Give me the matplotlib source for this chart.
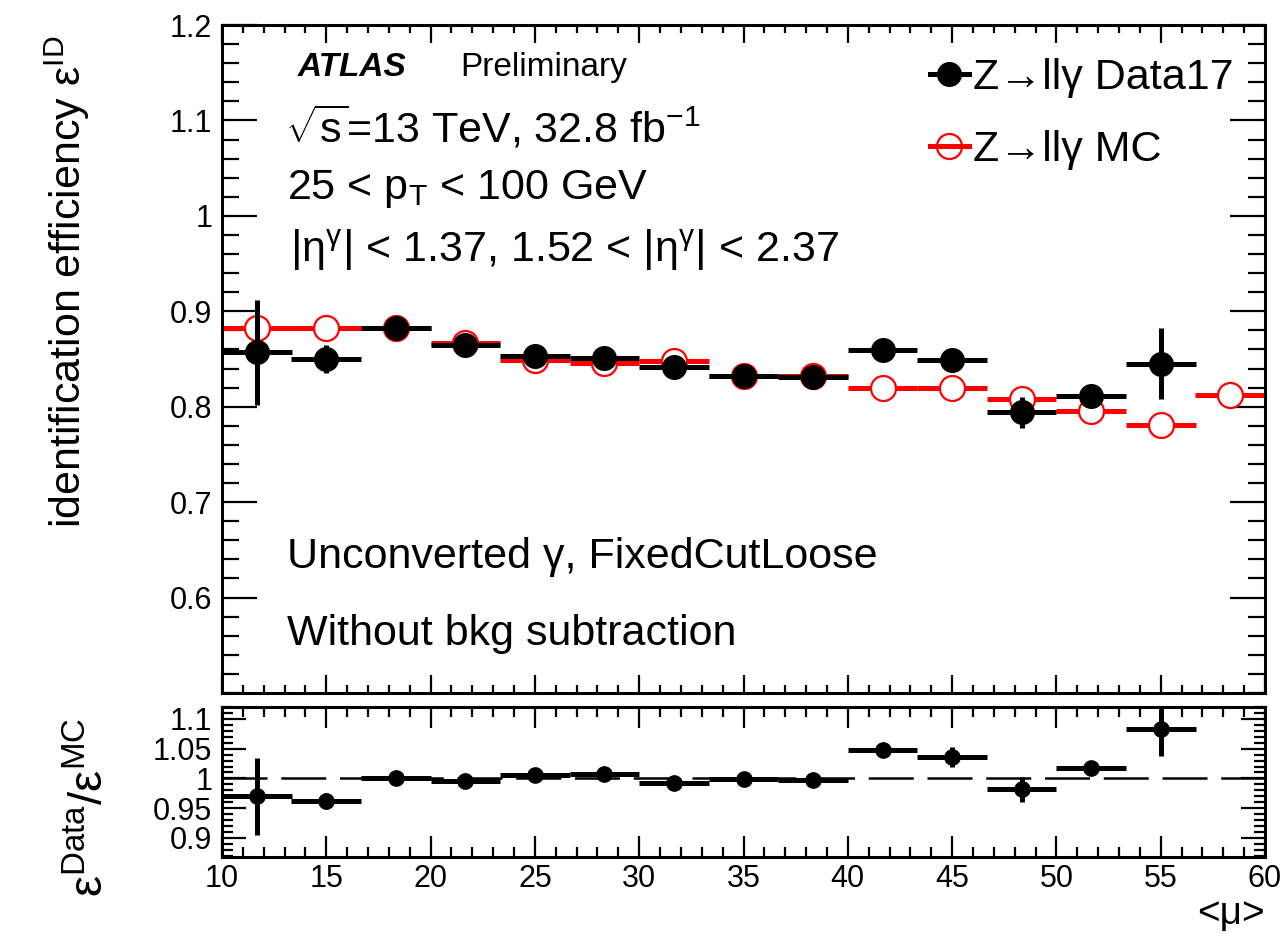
import numpy as np
import matplotlib
matplotlib.use("Agg")
import matplotlib.pyplot as plt
from matplotlib.lines import Line2D
from matplotlib.ticker import MultipleLocator

plt.rcParams['font.family'] = ['Liberation Sans', 'DejaVu Sans']
plt.rcParams['mathtext.fontset'] = 'custom'
plt.rcParams['mathtext.rm'] = 'Liberation Sans'
plt.rcParams['mathtext.it'] = 'Liberation Sans:italic'
plt.rcParams['mathtext.bf'] = 'Liberation Sans:bold'

# %% data
nan = np.nan
mu_centre = [11.67, 15.0, 18.33, 21.67, 25.0, 28.33, 31.67, 35.0,
             38.33, 41.67, 45.0, 48.33, 51.67, 55.0, 58.33]
mu_halfwidth = [1.67] * 15

eff_data = [0.857, 0.850, 0.882, 0.865, 0.853, 0.851, 0.842, 0.832,
            0.831, 0.859, 0.849, 0.794, 0.811, 0.845, nan]
eff_data_err = [0.055, 0.015, 0.004, 0.004, 0.004, 0.004, 0.004, 0.004,
                0.004, 0.006, 0.012, 0.016, 0.006, 0.037, nan]
eff_mc = [0.882, 0.883, 0.882, 0.867, 0.849, 0.846, 0.848, 0.832,
          0.832, 0.820, 0.820, 0.808, 0.796, 0.781, 0.812]
eff_mc_err = [0.003, 0.003, 0.003, 0.003, 0.003, 0.003, 0.003, 0.003,
              0.003, 0.003, 0.003, 0.003, 0.003, 0.003, 0.010]

ratio = [0.970, 0.962, 1.000, 0.995, 1.005, 1.007, 0.992, 0.999,
         0.998, 1.047, 1.036, 0.982, 1.018, 1.083, nan]
ratio_err = [0.065, 0.013, 0.006, 0.005, 0.005, 0.005, 0.005, 0.005,
             0.005, 0.010, 0.016, 0.021, 0.008, 0.045, nan]

# %% figure
W, H = 1286, 934
fig = plt.figure(figsize=(W / 100, H / 100), dpi=100)
ax = fig.add_axes([222 / W, 1 - 693 / H, (1265 - 222) / W, (693 - 25) / H])
axr = fig.add_axes([222 / W, 1 - 857 / H, (1265 - 222) / W, (857 - 707) / H])

lw = 3.6
ax.errorbar(mu_centre, eff_mc, xerr=mu_halfwidth, yerr=eff_mc_err, fmt='o',
            color='red', mfc='white', mec='red', mew=1.6, ms=18, elinewidth=lw,
            capsize=0, zorder=2)
ax.errorbar(mu_centre, eff_data, xerr=mu_halfwidth, yerr=eff_data_err, fmt='o',
            color='black', ms=17, elinewidth=lw, capsize=0, zorder=3)

axr.axhline(1.0, color='black', lw=1.8, ls=(0, (18, 5.5)), zorder=1)
axr.errorbar(mu_centre, ratio, xerr=mu_halfwidth, yerr=ratio_err, fmt='o',
             color='black', ms=11, elinewidth=lw, capsize=0, zorder=3)

# %% axes styling
for a in (ax, axr):
    a.set_xlim(10, 60)
    a.xaxis.set_major_locator(MultipleLocator(5))
    a.xaxis.set_minor_locator(MultipleLocator(1))
    for s in a.spines.values():
        s.set_linewidth(2.2)
    a.tick_params(which='both', direction='in', top=True, right=True,
                  width=1.6, labelsize=22)

ax.set_ylim(0.5, 1.2)
ax.yaxis.set_minor_locator(MultipleLocator(0.02))
ax.set_yticks([0.6, 0.7, 0.8, 0.9, 1.0, 1.1, 1.2])
ax.set_yticklabels(['0.6', '0.7', '0.8', '0.9', '1', '1.1', '1.2'])
ax.tick_params(axis='y', which='major', length=25, pad=7)
ax.tick_params(axis='y', which='minor', length=12)
ax.tick_params(axis='x', which='major', length=13)
ax.tick_params(axis='x', which='minor', length=6)
ax.tick_params(axis='x', labelbottom=False)

axr.set_ylim(0.868, 1.12)
axr.set_yticks([0.9, 0.95, 1.0, 1.05, 1.1])
axr.set_yticklabels(['0.9', '0.95', '1', '1.05', '1.1'])
axr.yaxis.set_minor_locator(MultipleLocator(0.01))
axr.tick_params(axis='y', which='major', length=17, pad=7)
axr.tick_params(axis='y', which='minor', length=8)
axr.tick_params(axis='x', which='major', length=15, pad=5)
axr.tick_params(axis='x', which='minor', length=7)
axr.set_xticks([10, 15, 20, 25, 30, 35, 40, 45, 50, 55, 60])

ax.set_ylabel('identification efficiency ε$^{\\mathrm{ID}}$', fontsize=31)
ax.yaxis.set_label_coords(-0.125, 0.615)
axr.set_ylabel('ε$^{\\mathrm{Data}}$/ε$^{\\mathrm{MC}}$', fontsize=34)
axr.yaxis.set_label_coords(-0.104, 0.33)
axr.set_xlabel('<μ>', fontsize=28)
axr.xaxis.set_label_coords(1.0, -0.26)
axr.xaxis.label.set_horizontalalignment('right')

# %% annotations (pixel positions converted to axes fraction)
def px(x, y):
    return (x - 222) / (1265 - 222), 1 - (y - 25) / (693 - 25)

ax.text(*px(298, 76), 'ATLAS', transform=ax.transAxes, fontsize=24,
        fontweight='bold', fontstyle='italic', va='baseline')
ax.text(*px(460, 76), 'Preliminary', transform=ax.transAxes, fontsize=24,
        va='baseline')
ax.text(*px(285, 142), '$\\sqrt{\\mathrm{s}}$=13 TeV, 32.8 fb$^{\\mathrm{-1}}$',
        transform=ax.transAxes, fontsize=31, va='baseline')
ax.text(*px(287, 199), '25 < p$_{\\mathrm{T}}$ < 100 GeV',
        transform=ax.transAxes, fontsize=31, va='baseline')
ax.text(*px(290, 262),
        '$\\left|\\mathrm{η}^{\\mathrm{γ}}\\right|$ < 1.37, 1.52 < '
        '$\\left|\\mathrm{η}^{\\mathrm{γ}}\\right|$ < 2.37',
        transform=ax.transAxes, fontsize=31, va='baseline')
ax.text(*px(287, 568), 'Unconverted γ, FixedCutLoose',
        transform=ax.transAxes, fontsize=31, va='baseline')
ax.text(*px(287, 645), 'Without bkg subtraction',
        transform=ax.transAxes, fontsize=31, va='baseline')

handles = [
    Line2D([], [], color='black', marker='o', ms=17, lw=lw),
    Line2D([], [], color='red', marker='o', ms=18, mfc='none', mew=1.6, lw=lw),
]
ax.legend(handles, ['Z→llγ Data17', 'Z→llγ MC'], loc='upper left',
          bbox_to_anchor=px(930, 58), frameon=False, fontsize=31,
          handlelength=0.9, handletextpad=0.1, labelspacing=0.75,
          borderaxespad=0, borderpad=0)

fig.savefig('out.png', dpi=100)
